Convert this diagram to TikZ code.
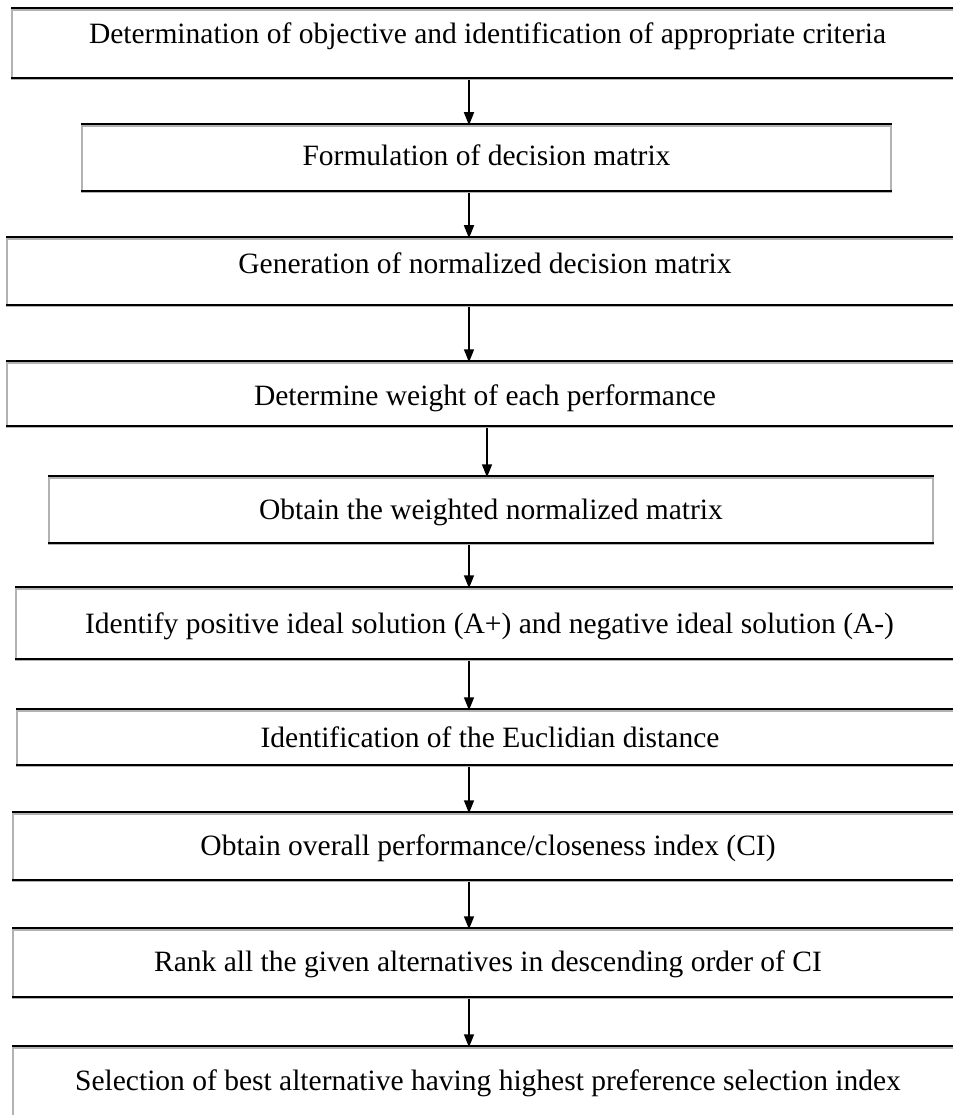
\documentclass[tikz,border=0pt]{standalone}
\usepackage{fontspec}
\setmainfont{Liberation Serif}
\usetikzlibrary{arrows.meta}

\begin{document}
\begin{tikzpicture}[
x=1pt, y=-1pt,
stepbox/.style={draw=black!30,
                line width=1.5pt,
                inner xsep=0pt, inner ysep=0pt,
                anchor=base,
                font=\fontsize{29.5}{35}\selectfont
                },
rimline/.style={line width=1.8pt, black},
flow/.style={-{Triangle[length=13pt,width=10pt]}, line width=1.6pt}]

\path[use as bounding box, fill=white] (0,0) rectangle (952,1115);

% steps
\node[stepbox, minimum width=951pt, text height=34pt, text depth=35pt] (goal) at (487.5,44)
  {Determination of objective and identification of appropriate criteria};
\node[stepbox, minimum width=809pt, text height=40pt, text depth=26pt] (decmat) at (486.5,166)
  {Formulation of decision matrix};
\node[stepbox, minimum width=956pt, text height=34pt, text depth=33pt] (normmat) at (485,273)
  {Generation of normalized decision matrix};
\node[stepbox, minimum width=956pt, text height=42pt, text depth=22pt] (weight) at (485,405)
  {Determine weight of each performance};
\node[stepbox, minimum width=884pt, text height=41pt, text depth=25pt] (wnorm) at (491,519)
  {Obtain the weighted normalized matrix};
\node[stepbox, minimum width=947pt, text height=44pt, text depth=27pt] (ideal) at (489.5,633)
  {Identify positive ideal solution (A+) and negative ideal solution (A-)};
\node[stepbox, minimum width=946pt, text height=36pt, text depth=19pt] (dist) at (490,747)
  {Identification of the Euclidian distance};
\node[stepbox, minimum width=950pt, text height=41pt, text depth=26pt] (ci) at (488,855)
  {Obtain overall performance/closeness index (CI)};
\node[stepbox, minimum width=950pt, text height=41pt, text depth=27pt] (rank) at (488,971)
  {Rank all the given alternatives in descending order of CI};
\node[stepbox, minimum width=950pt, text height=42pt, text depth=28pt] (best) at (488,1090)
  {Selection of best alternative having highest preference selection index};

% dark top and bottom rims
\foreach \n in {goal, decmat, normmat, weight, wnorm, ideal, dist, ci, rank, best} {
  \draw[rimline] ([yshift=1.5pt]\n.north west) -- ([yshift=1.5pt]\n.north east);
  \draw[rimline] ([yshift=1.5pt]\n.south west) -- ([yshift=1.5pt]\n.south east);
}

% arrow columns
\coordinate (ax) at (469,0);
\coordinate (bx) at (487,0);

\foreach \a/\b/\c in {goal/decmat/ax, decmat/normmat/ax, normmat/weight/ax,
                      weight/wnorm/bx, wnorm/ideal/ax, ideal/dist/ax,
                      dist/ci/ax, ci/rank/ax, rank/best/ax} {
  \draw[flow] (\a.south -| \c) -- (\b.north -| \c);
}

\end{tikzpicture}
\end{document}
